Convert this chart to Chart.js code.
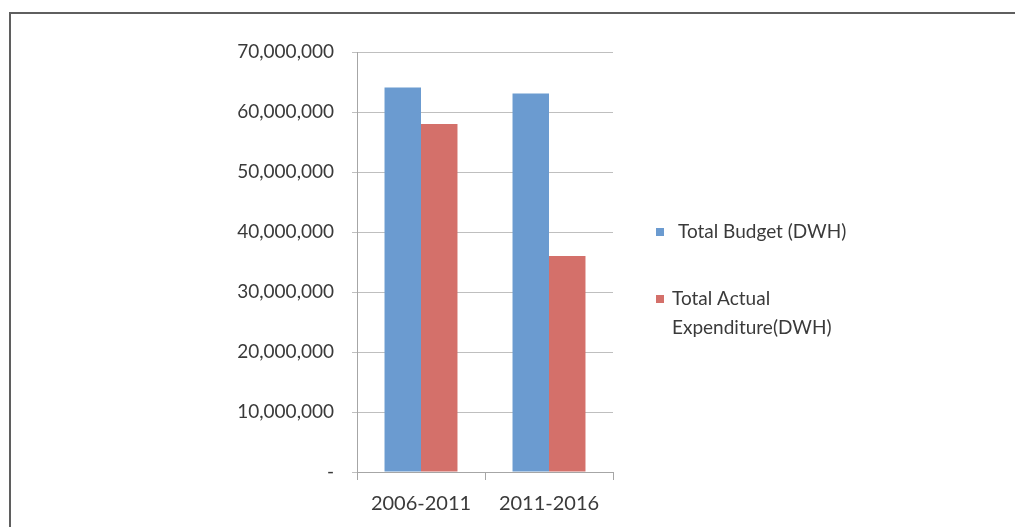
<!DOCTYPE html>
<html><head><meta charset="utf-8">
<script src="https://cdn.jsdelivr.net/npm/chart.js@4"></script>
<style>html,body{margin:0;padding:0;background:#fff;}#wrap{width:1015px;height:527px;position:relative;}</style>
</head><body><div id="wrap"><canvas id="c"></canvas></div>
<script>
const categories = ["2006-2011", "2011-2016"];
const budget = [64100000, 63100000];
const expenditure = [58000000, 36000000];
const seriesNames = ["Total Budget (DWH)", ["Total Actual", "Expenditure(DWH)"]];
const yTicks = [0, 10000000, 20000000, 30000000, 40000000, 50000000, 60000000, 70000000];

const colors = ["#6B9BD0", "#D4706A"];
const FONT = "Lato, 'Open Sans', sans-serif";

const frame = {
  id: 'frame',
  afterDraw(chart) {
    const ctx = chart.ctx;
    ctx.save();
    ctx.strokeStyle = '#5f5f5f';
    ctx.lineWidth = 2;
    ctx.beginPath();
    ctx.moveTo(10, 530);
    ctx.lineTo(10, 13);
    ctx.lineTo(1020, 13);
    ctx.stroke();
    // legend
    const items = [
      {c: colors[0], lines: [seriesNames[0]], y: 232, sx: 656, tx: 678},
      {c: colors[1], lines: seriesNames[1], y: 299, sx: 656, tx: 672}
    ];
    ctx.font = "19px " + FONT;
    ctx.textBaseline = 'middle';
    items.forEach(it => {
      ctx.fillStyle = it.c;
      ctx.fillRect(it.sx, it.y - 4, 8, 8);
      ctx.fillStyle = '#3a3a3a';
      it.lines.forEach((l, i) => ctx.fillText(l, it.tx, it.y + i * 29));
    });
    ctx.restore();
  }
};

new Chart(document.getElementById('c'), {
  type: 'bar',
  data: {
    labels: categories,
    datasets: [
      {label: "Total Budget (DWH)", data: budget, backgroundColor: colors[0], borderWidth: 0, categoryPercentage: 0.57, barPercentage: 1.0},
      {label: "Total Actual Expenditure(DWH)", data: expenditure, backgroundColor: colors[1], borderWidth: 0, categoryPercentage: 0.57, barPercentage: 1.0}
    ]
  },
  options: {
    responsive: true,
    maintainAspectRatio: false,
    animation: false,
    layout: {padding: {left: 0, right: 402, top: 52, bottom: 0}},
    plugins: {legend: {display: false}, tooltip: {enabled: false}},
    scales: {
      x: {
        grid: {display: true, offset: true, drawOnChartArea: false, drawTicks: true, tickLength: 8, color: '#A6A6A6'},
        border: {display: true, color: '#A6A6A6'},
        ticks: {font: {family: FONT, size: 20}, color: '#3a3a3a', padding: 12},
        afterFit(s) { s.height = 55; }
      },
      y: {
        min: 0, max: 70000000,
        afterBuildTicks(s) { s.ticks = yTicks.map(v => ({value: v})); },
        grid: {color: '#BFBFBF', tickLength: 5},
        border: {display: true, color: '#A6A6A6'},
        ticks: {
          font: {family: FONT, size: 19}, color: '#3a3a3a', padding: 18,
          callback: v => v === 0 ? '-' : v.toLocaleString('en-US')
        },
        afterFit(s) { s.width = 357; }
      }
    }
  },
  plugins: [frame]
});
</script></body></html>
